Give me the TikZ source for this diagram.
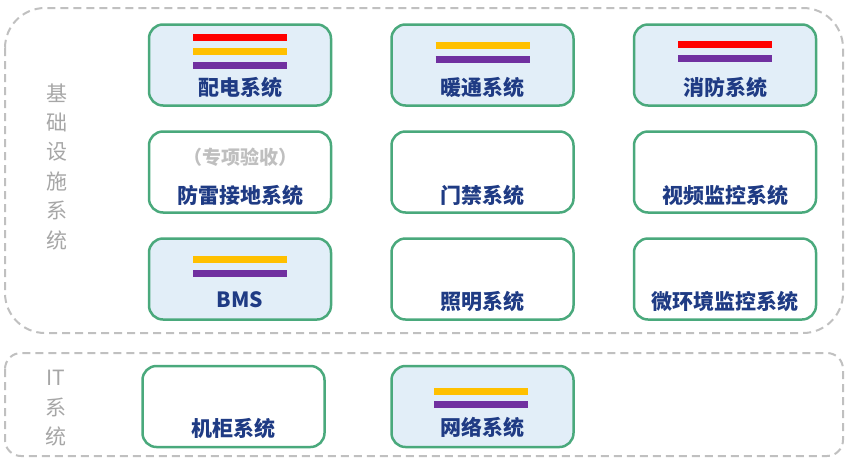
\documentclass[tikz,border=0pt]{standalone}
\usepackage{fontspec}
\setmainfont{Noto Sans CJK SC}
\definecolor{boxGreen}{HTML}{4AA97C}
\definecolor{boxFill}{HTML}{E2EEF8}
\definecolor{sysBlue}{HTML}{1F3B84}
\definecolor{sideGray}{HTML}{A6A6A6}
\definecolor{noteGray}{HTML}{BFBFBF}
\definecolor{dashGray}{HTML}{C0C0C0}
\definecolor{barRed}{HTML}{FF0000}
\definecolor{barYellow}{HTML}{FFC000}
\definecolor{barPurple}{HTML}{7030A0}
\usetikzlibrary{positioning}

\begin{document}
\begin{tikzpicture}[
    x=1pt, y=-1pt,
    node distance=23.5pt and 58pt,
    sysbox/.style={draw=boxGreen, line width=2.5pt, rounded corners=14pt,
                   minimum width=182pt, minimum height=81pt, inner sep=0pt},
    litbox/.style={sysbox, fill=boxFill},
    sysname/.style={text=sysBlue, font=\fontsize{21}{21}\selectfont\bfseries},
    subnote/.style={text=noteGray, font=\fontsize{19}{19}\selectfont\bfseries},
    colorbar/.style={line width=7pt},
    zone/.style={draw=dashGray, line width=2pt, dash pattern=on 8pt off 5pt},
    zonelabel/.style={text=sideGray, align=center, font=\fontsize{21}{29.4}\selectfont}
  ]
    \useasboundingbox (0,0) rectangle (861,464);

    % dashed zones
    \draw[zone, rounded corners=40pt] (5,8) rectangle (843,333);
    \draw[zone, rounded corners=16pt] (5,353) rectangle (843,456);
    \node[zonelabel] (infra) at (57,166.5) {基\\础\\设\\施\\系\\统};
    \node[zonelabel] (itsys) at (56,408.5) {IT\\系\\统};

    % infrastructure boxes
    \node[litbox] (power) at (240,65) {};
    \node[litbox, right=of power] (hvac) {};
    \node[litbox, right=of hvac] (fire) {};
    \node[sysbox, below=of power] (lightning) {};
    \node[sysbox, right=of lightning] (access) {};
    \node[sysbox, right=of access] (video) {};
    \node[litbox, below=of lightning] (bms) {};
    \node[sysbox, right=of bms] (lighting) {};
    \node[sysbox, right=of lighting] (envmon) {};

    % IT boxes
    \node[sysbox] (rack) at (233.5,406.5) {};
    \node[litbox] (network) at (482.5,406.5) {};

    % names
    \node[sysname] (power-t) at ([yshift=-22pt]power) {配电系统};
    \node[sysname] (hvac-t) at ([yshift=-22pt]hvac) {暖通系统};
    \node[sysname] (fire-t) at ([yshift=-22pt]fire) {消防系统};
    \node[subnote] (lightning-s) at ([yshift=15pt]lightning) {（专项验收）};
    \node[sysname] (lightning-t) at ([yshift=-23pt]lightning) {防雷接地系统};
    \node[sysname] (access-t) at ([yshift=-23pt]access) {门禁系统};
    \node[sysname] (video-t) at ([yshift=-23pt]video) {视频监控系统};
    \node[sysname] (bms-t) at ([yshift=-21pt]bms) {BMS};
    \node[sysname] (lighting-t) at ([yshift=-22pt]lighting) {照明系统};
    \node[sysname] (envmon-t) at ([yshift=-22pt]envmon) {微环境监控系统};
    \node[sysname] (rack-t) at ([yshift=-21.5pt]rack) {机柜系统};
    \node[sysname] (network-t) at ([yshift=-20.5pt]network) {网络系统};

    % colour bars
    \draw[colorbar, barRed] ([xshift=-47pt, yshift=27.5pt]power.center) -- ++(94,0);
    \draw[colorbar, barYellow] ([xshift=-47pt, yshift=13.5pt]power.center) -- ++(94,0);
    \draw[colorbar, barPurple] ([xshift=-47pt, yshift=-0.5pt]power.center) -- ++(94,0);
    \draw[colorbar, barYellow] ([xshift=-47pt, yshift=19.5pt]hvac.center) -- ++(94,0);
    \draw[colorbar, barPurple] ([xshift=-47pt, yshift=5.5pt]hvac.center) -- ++(94,0);
    \draw[colorbar, barRed] ([xshift=-47pt, yshift=20.5pt]fire.center) -- ++(94,0);
    \draw[colorbar, barPurple] ([xshift=-47pt, yshift=6.5pt]fire.center) -- ++(94,0);
    \draw[colorbar, barYellow] ([xshift=-47pt, yshift=20pt]bms.center) -- ++(94,0);
    \draw[colorbar, barPurple] ([xshift=-47pt, yshift=6pt]bms.center) -- ++(94,0);
    \draw[colorbar, barYellow] ([xshift=-48.5pt, yshift=15pt]network.center) -- ++(94,0);
    \draw[colorbar, barPurple] ([xshift=-48.5pt, yshift=2pt]network.center) -- ++(94,0);
  \end{tikzpicture}
\end{document}
